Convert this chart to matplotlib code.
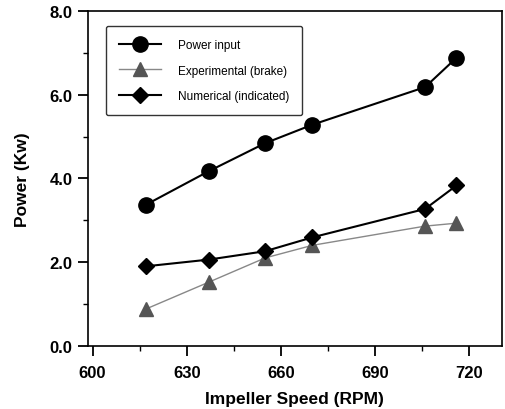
import matplotlib
matplotlib.use("Agg")
import matplotlib.pyplot as plt
from matplotlib.ticker import MultipleLocator

rpm = [617, 637, 655, 670, 706, 716]
power_input = [3.37, 4.17, 4.84, 5.28, 6.18, 6.88]
experimental = [0.88, 1.52, 2.10, 2.40, 2.86, 2.93]
numerical = [1.90, 2.06, 2.26, 2.59, 3.27, 3.83]

plt.rcParams['font.family'] = ['Liberation Sans', 'DejaVu Sans']

fig = plt.figure(figsize=(5.05, 4.1), dpi=100)
ax = fig.add_axes([0.174, 0.154, 0.820, 0.817])

ax.plot(rpm, power_input, color='black', lw=1.5, marker='o', ms=11,
        label='Power input')
ax.plot(rpm, experimental, color='#888888', lw=1.0, marker='^', ms=9.5,
        markerfacecolor='#555555', markeredgecolor='#555555',
        label='Experimental (brake)')
ax.plot(rpm, numerical, color='black', lw=1.5, marker='D', ms=8,
        label='Numerical (indicated)')

ax.set_xlim(598.5, 730.5)
ax.set_ylim(0, 8)
ax.xaxis.set_major_locator(MultipleLocator(30))
ax.xaxis.set_minor_locator(MultipleLocator(15))
ax.yaxis.set_major_locator(MultipleLocator(2))
ax.yaxis.set_minor_locator(MultipleLocator(1))
ax.set_xticks([600, 630, 660, 690, 720])
ax.set_yticks([0, 2, 4, 6, 8])
ax.set_yticklabels(['0.0', '2.0', '4.0', '6.0', '8.0'])

ax.tick_params(axis='x', which='major', direction='out', length=7, width=1.3,
               labelsize=12, pad=7)
ax.tick_params(axis='y', which='major', direction='out', length=7, width=1.3,
               labelsize=12, pad=4)
ax.tick_params(axis='both', which='minor', direction='out', length=3.5, width=1.0)
for lab in ax.get_xticklabels() + ax.get_yticklabels():
    lab.set_fontweight('heavy')

for s in ax.spines.values():
    s.set_linewidth(1.2)

ax.set_xlabel('Impeller Speed (RPM)', fontsize=12.5, fontweight='bold', labelpad=8)
ax.set_ylabel('Power (Kw)', fontsize=12.5, fontweight='bold', labelpad=14)

leg = ax.legend(loc='upper left', bbox_to_anchor=(0.043, 0.955), fontsize=8.5,
                frameon=True, fancybox=True, edgecolor='black',
                handlelength=3.6, labelspacing=1.15, borderpad=1.1,
                handletextpad=1.4, borderaxespad=0.0)
leg.get_frame().set_linewidth(1.0)

fig.savefig('out.png', dpi=100)
